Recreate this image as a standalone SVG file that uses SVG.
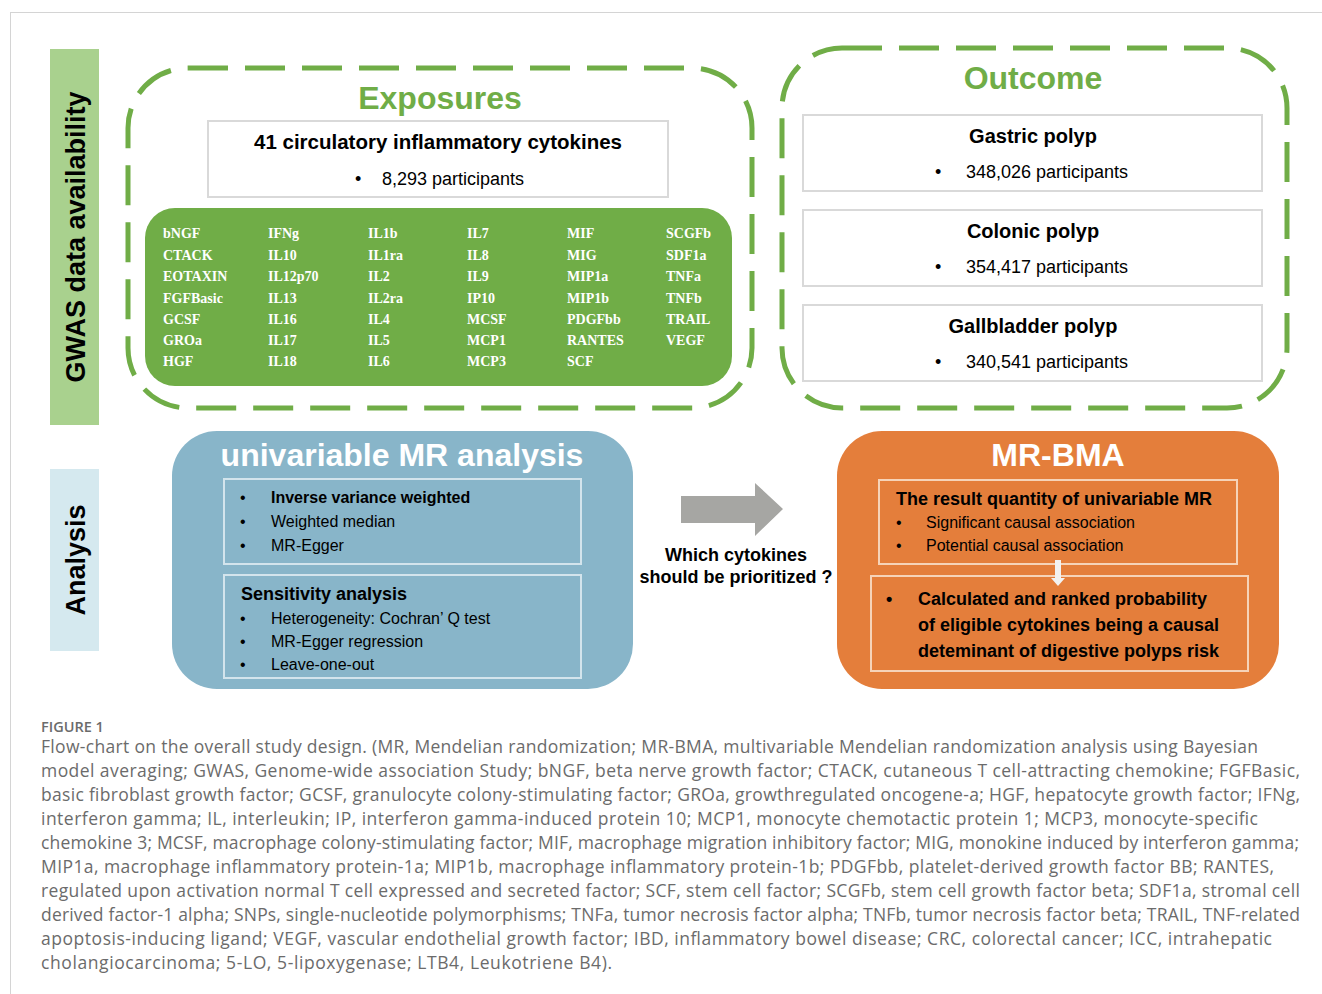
<svg xmlns="http://www.w3.org/2000/svg" width="1322" height="994" viewBox="0 0 1322 994">
<style>
.sans{font-family:"Liberation Sans",Arial,sans-serif;}
.b{font-weight:bold;}
.title{font-family:"Liberation Sans",Arial,sans-serif;font-weight:bold;font-size:32px;}
.green{fill:#70ad47;}
.wbox{fill:#ffffff;stroke:#d9d9d9;stroke-width:2;}
.dash{fill:none;stroke:#70ad47;stroke-width:5;stroke-dasharray:40 17;}
.cyt{font-family:"Liberation Serif","Times New Roman",serif;font-weight:bold;font-size:14px;fill:#ffffff;}
.ibox-b{fill:none;stroke:#d3e4ec;stroke-width:2;}
.ibox-o{fill:none;stroke:#f6d3b8;stroke-width:2;}
.cap{font-family:"Open Sans","Liberation Sans",sans-serif;font-size:17.5px;fill:#6b6b6b;}
</style>
<rect x="10.5" y="12.5" width="1340" height="1000" fill="#ffffff" stroke="#d4d4d4" stroke-width="1"/>

<g id="gwas-label">
<rect x="50" y="49" width="49" height="376" fill="#a9d18e"/>
<text class="sans b" font-size="27" text-anchor="middle" transform="translate(84.5,237) rotate(-90)" fill="#000">GWAS data availability</text>
</g>
<g id="analysis-label">
<rect x="50" y="469" width="49" height="182" fill="#d5e9ef"/>
<text class="sans b" font-size="27" text-anchor="middle" transform="translate(84.5,560) rotate(-90)" fill="#000">Analysis</text>
</g>

<g id="exposures">
<rect class="dash" x="128" y="68" width="624" height="340" rx="60"/>
<text class="title green" x="440" y="109" text-anchor="middle">Exposures</text>
<rect class="wbox" x="208" y="121" width="460" height="76"/>
<text class="sans b" font-size="20.5" x="438" y="149" text-anchor="middle">41 circulatory inflammatory cytokines</text>
<text class="sans" font-size="18" x="355" y="185">•</text>
<text class="sans" font-size="18" x="382" y="185">8,293 participants</text>
</g>

<g id="cytokines">
<rect x="145" y="208" width="587" height="178" rx="30" fill="#70ad47"/>
<g class="cyt">
<text x="163" y="238">bNGF</text>
<text x="163" y="260">CTACK</text>
<text x="163" y="281">EOTAXIN</text>
<text x="163" y="303">FGFBasic</text>
<text x="163" y="324">GCSF</text>
<text x="163" y="345">GROa</text>
<text x="163" y="366">HGF</text>
<text x="268" y="238">IFNg</text>
<text x="268" y="260">IL10</text>
<text x="268" y="281">IL12p70</text>
<text x="268" y="303">IL13</text>
<text x="268" y="324">IL16</text>
<text x="268" y="345">IL17</text>
<text x="268" y="366">IL18</text>
<text x="368" y="238">IL1b</text>
<text x="368" y="260">IL1ra</text>
<text x="368" y="281">IL2</text>
<text x="368" y="303">IL2ra</text>
<text x="368" y="324">IL4</text>
<text x="368" y="345">IL5</text>
<text x="368" y="366">IL6</text>
<text x="467" y="238">IL7</text>
<text x="467" y="260">IL8</text>
<text x="467" y="281">IL9</text>
<text x="467" y="303">IP10</text>
<text x="467" y="324">MCSF</text>
<text x="467" y="345">MCP1</text>
<text x="467" y="366">MCP3</text>
<text x="567" y="238">MIF</text>
<text x="567" y="260">MIG</text>
<text x="567" y="281">MIP1a</text>
<text x="567" y="303">MIP1b</text>
<text x="567" y="324">PDGFbb</text>
<text x="567" y="345">RANTES</text>
<text x="567" y="366">SCF</text>
<text x="666" y="238">SCGFb</text>
<text x="666" y="260">SDF1a</text>
<text x="666" y="281">TNFa</text>
<text x="666" y="303">TNFb</text>
<text x="666" y="324">TRAIL</text>
<text x="666" y="345">VEGF</text>
</g>
</g>

<g id="outcome">
<rect class="dash" x="782" y="48" width="505" height="360" rx="60"/>
<text class="title green" x="1033" y="89" text-anchor="middle">Outcome</text>
</g>
<g id="gastric">
<rect class="wbox" x="803" y="115" width="459" height="76"/>
<text class="sans b" font-size="20" x="1033" y="143" text-anchor="middle">Gastric polyp</text>
<text class="sans" font-size="18" x="935" y="178">•</text>
<text class="sans" font-size="18" x="966" y="178">348,026 participants</text>
</g>
<g id="colonic">
<rect class="wbox" x="803" y="210" width="459" height="76"/>
<text class="sans b" font-size="20" x="1033" y="238" text-anchor="middle">Colonic polyp</text>
<text class="sans" font-size="18" x="935" y="273">•</text>
<text class="sans" font-size="18" x="966" y="273">354,417 participants</text>
</g>
<g id="gallbladder">
<rect class="wbox" x="803" y="305" width="459" height="76"/>
<text class="sans b" font-size="20" x="1033" y="333" text-anchor="middle">Gallbladder polyp</text>
<text class="sans" font-size="18" x="935" y="368">•</text>
<text class="sans" font-size="18" x="966" y="368">340,541 participants</text>
</g>

<g id="univariable-mr">
<rect x="172" y="431" width="461" height="258" rx="45" fill="#88b5c9"/>
<text class="title" x="402" y="466" text-anchor="middle" fill="#ffffff">univariable MR analysis</text>
<rect class="ibox-b" x="224" y="479" width="357" height="85"/>
<g class="sans" font-size="16">
<text x="240" y="503">•</text>
<text x="271" y="503" class="b">Inverse variance weighted</text>
<text x="240" y="527">•</text>
<text x="271" y="527">Weighted median</text>
<text x="240" y="551">•</text>
<text x="271" y="551">MR-Egger</text>
</g>
<rect class="ibox-b" x="224" y="575" width="357" height="103"/>
<text class="sans b" font-size="18" x="241" y="600">Sensitivity analysis</text>
<g class="sans" font-size="16">
<text x="240" y="624">•</text>
<text x="271" y="624">Heterogeneity: Cochran’ Q test</text>
<text x="240" y="647">•</text>
<text x="271" y="647">MR-Egger regression</text>
<text x="240" y="670">•</text>
<text x="271" y="670">Leave-one-out</text>
</g>
</g>

<g id="question">
<text class="sans b" font-size="18" x="736" y="561" text-anchor="middle">Which cytokines</text>
<text class="sans b" font-size="18" x="736" y="583" text-anchor="middle">should be prioritized ?</text>
</g>

<g id="mr-bma">
<rect x="837" y="431" width="442" height="258" rx="45" fill="#e47e3b"/>
<text class="title" x="1058" y="466" text-anchor="middle" fill="#ffffff">MR-BMA</text>
<rect class="ibox-o" x="879" y="480" width="358" height="84"/>
<text class="sans b" font-size="18" x="896" y="505">The result quantity of univariable MR</text>
<g class="sans" font-size="16">
<text x="896" y="528">•</text>
<text x="926" y="528">Significant causal association</text>
<text x="896" y="551">•</text>
<text x="926" y="551">Potential causal association</text>
</g>
<rect class="ibox-o" x="871" y="576" width="377" height="95"/>
<g class="sans b" font-size="18">
<text x="886" y="605">•</text>
<text x="918" y="605">Calculated and ranked probability</text>
<text x="918" y="631">of eligible cytokines being a causal</text>
<text x="918" y="657">deteminant of digestive polyps risk</text>
</g>
</g>

<g id="connectors">
<polygon points="681,496 755,496 755,483 783,509 755,536 755,523 681,523" fill="#a6a6a3"/>
<polygon points="1055,560 1061,560 1061,578 1065,578 1058,586 1051,578 1055,578" fill="#f2f2f2"/>
</g>

<g id="caption">
<text x="41" y="732" font-family="'Open Sans','Liberation Sans',sans-serif" font-size="14.5" font-weight="600" fill="#6b6b6b">FIGURE 1</text>
<text class="cap" x="41" y="753" textLength="1217" lengthAdjust="spacing">Flow-chart on the overall study design. (MR, Mendelian randomization; MR-BMA, multivariable Mendelian randomization analysis using Bayesian</text>
<text class="cap" x="41" y="777" textLength="1259" lengthAdjust="spacing">model averaging; GWAS, Genome-wide association Study; bNGF, beta nerve growth factor; CTACK, cutaneous T cell-attracting chemokine; FGFBasic,</text>
<text class="cap" x="41" y="801" textLength="1259" lengthAdjust="spacing">basic fibroblast growth factor; GCSF, granulocyte colony-stimulating factor; GROa, growthregulated oncogene-a; HGF, hepatocyte growth factor; IFNg,</text>
<text class="cap" x="41" y="825" textLength="1217" lengthAdjust="spacing">interferon gamma; IL, interleukin; IP, interferon gamma-induced protein 10; MCP1, monocyte chemotactic protein 1; MCP3, monocyte-specific</text>
<text class="cap" x="41" y="849" textLength="1258" lengthAdjust="spacing">chemokine 3; MCSF, macrophage colony-stimulating factor; MIF, macrophage migration inhibitory factor; MIG, monokine induced by interferon gamma;</text>
<text class="cap" x="41" y="873" textLength="1233" lengthAdjust="spacing">MIP1a, macrophage inflammatory protein-1a; MIP1b, macrophage inflammatory protein-1b; PDGFbb, platelet-derived growth factor BB; RANTES,</text>
<text class="cap" x="41" y="897" textLength="1259" lengthAdjust="spacing">regulated upon activation normal T cell expressed and secreted factor; SCF, stem cell factor; SCGFb, stem cell growth factor beta; SDF1a, stromal cell</text>
<text class="cap" x="41" y="921" textLength="1259" lengthAdjust="spacing">derived factor-1 alpha; SNPs, single-nucleotide polymorphisms; TNFa, tumor necrosis factor alpha; TNFb, tumor necrosis factor beta; TRAIL, TNF-related</text>
<text class="cap" x="41" y="945" textLength="1231" lengthAdjust="spacing">apoptosis-inducing ligand; VEGF, vascular endothelial growth factor; IBD, inflammatory bowel disease; CRC, colorectal cancer; ICC, intrahepatic</text>
<text class="cap" x="41" y="969" textLength="571" lengthAdjust="spacing">cholangiocarcinoma; 5-LO, 5-lipoxygenase; LTB4, Leukotriene B4).</text>
</g>
</svg>
